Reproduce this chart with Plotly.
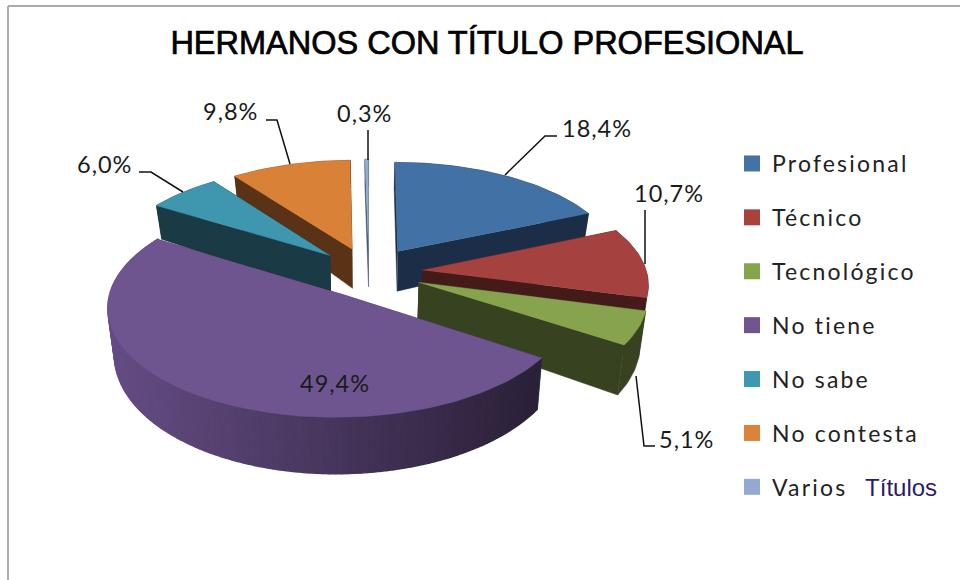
import numpy as np
import plotly.graph_objects as go

# ---- data ----
categories = ["Profesional", "Técnico", "Tecnológico", "No tiene", "No sabe", "No contesta", "Varios"]
values = [18.4, 10.7, 5.1, 49.4, 6.0, 9.8, 0.3]
value_labels = ["18,4%", "10,7%", "5,1%", "49,4%", "6,0%", "9,8%", "0,3%"]
title_text = "HERMANOS CON TÍTULO PROFESIONAL"

# ---- styles ----
top_colors = ["#4271A6", "#A5423F", "#87A34E", "#6F5590", "#3E97AF", "#DA8138", "#94ABD3"]
wall_colors = ["#1C2E47", "#451B1A", "#374320", "#3A2C4C", "#1A3A45", "#5A3215", "#3C4C66"]
legend_colors = ["#4472A8", "#A8423F", "#87A54D", "#71558F", "#3F98B0", "#DC833A", "#94A9D2"]
draw_order = [6, 5, 0, 4, 1, 2, 3]

# ---- projection of the tilted, exploded pie ----
CX, CY, RX, RY, K, EXPLODE = 369, 272, 224, 104, 0.116, 0.24


def project(X, Y, lower=False):
    s = 1 / (1 + K * Y)
    x = CX + RX * X * s
    y = CY - RY * Y * s
    if lower:
        y = y + (42 - 12 * Y)
        x = CX + (x - CX) * 0.975
    return x, y


total = sum(values)
edges = np.cumsum([0] + values) / total * 2 * np.pi


def wedge(i):
    a0, a1 = edges[i], edges[i + 1]
    mid = (a0 + a1) / 2
    ox, oy = EXPLODE * np.sin(mid), EXPLODE * np.cos(mid)
    t = np.linspace(a0, a1, max(4, int((a1 - a0) * 40)))
    return t, ox, oy


def poly(xs, ys, color, name, lw=0.5):
    return go.Scatter(x=list(xs), y=list(ys), mode="lines", fill="toself", fillcolor=color,
                      line=dict(color=color, width=lw), showlegend=False, hoverinfo="text", text=name)


def mix(hex_color, f):
    c = [int(hex_color[j:j + 2], 16) for j in (1, 3, 5)]
    return "rgb(%d,%d,%d)" % tuple(int(v * f) for v in c)


fig = go.Figure()
for i in draw_order:
    t, ox, oy = wedge(i)
    name = categories[i]
    X, Y = ox + np.sin(t), oy + np.cos(t)
    # radial walls
    for a in (t[0], t[-1]):
        ex, ey = ox + np.sin(a), oy + np.cos(a)
        p = [project(ox, oy), project(ex, ey), project(ex, ey, True), project(ox, oy, True)]
        fig.add_trace(poly([q[0] for q in p], [q[1] for q in p], wall_colors[i], name))
    # outer wall; the big slice is cut in strips for its shading
    if i == 3:
        for j in range(len(t) - 1):
            idx = np.arange(j, j + 2)
            ux, uy = project(X[idx], Y[idx])
            lx, ly = project(X[idx], Y[idx], True)
            frac = min((project(X[j], Y[j])[0] - 107) / 430, 1)
            fig.add_trace(poly(np.r_[ux, lx[::-1]], np.r_[uy, ly[::-1]],
                               mix(wall_colors[i], 1.75 - 1.0 * frac), name, lw=1.5))
    else:
        ux, uy = project(X, Y)
        lx, ly = project(X, Y, True)
        fig.add_trace(poly(np.r_[ux, lx[::-1]], np.r_[uy, ly[::-1]], wall_colors[i], name))
    # top face
    px, py = project(np.r_[ox, X], np.r_[oy, Y])
    fig.add_trace(poly(px, py, top_colors[i], name))

# legend entries
for i, name in enumerate(categories):
    label = '<span style="letter-spacing:2.2px">%s</span>' % name
    if i == 6:
        label += '   <span style="color:#2B1B6B;font-family:Liberation Sans;font-size:24px">Títulos</span>'
    fig.add_trace(go.Scatter(x=[None], y=[None], mode="markers", name=label, legendgroup=name,
                             marker=dict(symbol="square", size=16, color=legend_colors[i])))

# data labels
label_pos = [(597, 128), (669, 193), (686, 439), (335, 383), (104, 164), (230, 111), (364, 113)]
for (lx, ly), txt in zip(label_pos, value_labels):
    fig.add_annotation(x=lx, y=ly, text='<span style="letter-spacing:1px">%s</span>' % txt,
                       showarrow=False, xref="x", yref="y",
                       font=dict(family="Lato", size=23.5, color="#1a1a1a"))

# leader lines
leaders = ["M505,175 L545,136 L557,136", "M645,264 L645,210", "M636,376 L644,446 L655,446",
           "M183,192 L151,172 L139,172", "M290,164 L277,120 L266,120", "M368,160 L368,130"]
shapes = [dict(type="path", path=p, xref="x", yref="y", line=dict(color="#111111", width=1.5)) for p in leaders]
# chart frame
shapes.append(dict(type="line", x0=8, x1=960, y0=6, y1=6, xref="x", yref="y", line=dict(color="#ABABAB", width=2)))
shapes.append(dict(type="line", x0=8, x1=8, y0=6, y1=580, xref="x", yref="y", line=dict(color="#ABABAB", width=2)))

fig.update_layout(
    width=960, height=580, margin=dict(l=0, r=0, t=0, b=0),
    paper_bgcolor="white", plot_bgcolor="white", shapes=shapes,
    title=dict(text='<span style="stroke:#000;stroke-width:0.7px">%s</span>' % title_text,
               x=487 / 960, y=1 - 43 / 580, xanchor="center", yanchor="middle",
               font=dict(family="Liberation Sans", size=32.5, color="#000000")),
    xaxis=dict(range=[0, 960], visible=False, fixedrange=True),
    yaxis=dict(range=[580, 0], visible=False, fixedrange=True),
    legend=dict(x=732 / 960, y=1 - 142 / 580, xanchor="left", yanchor="top", tracegroupgap=21,
                font=dict(family="Lato", size=23, color="#222222"), bgcolor="rgba(0,0,0,0)"),
)
fig.write_html("out.html", config=dict(displayModeBar=False),
               post_script="document.body.style.margin='0';")
